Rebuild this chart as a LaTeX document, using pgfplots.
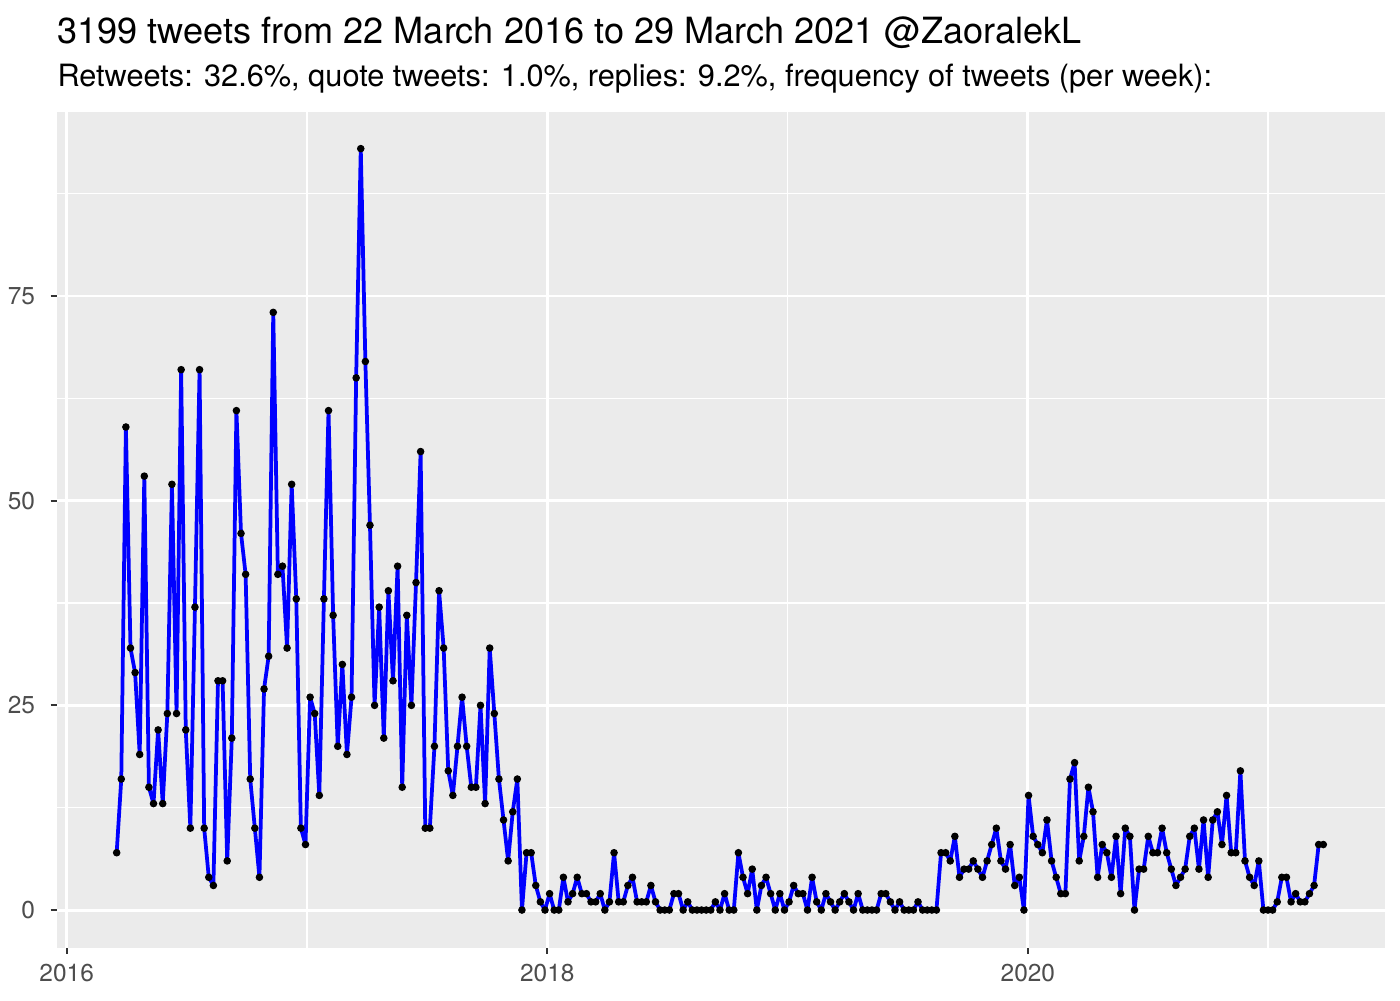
\documentclass[border=0pt]{standalone}
\usepackage{pgfplots}
\pgfplotsset{compat=1.18}
\usepackage{pgfplotstable}
\usepackage{fontspec}
\setmainfont{TeX Gyre Heros}
\definecolor{panel}{HTML}{EBEBEB}
\definecolor{ticklab}{HTML}{4D4D4D}
\definecolor{tickcol}{HTML}{333333}

% weekly tweet counts, first week 22 March 2016
\pgfplotstableread[row sep=\\]{n\\
7\\16\\59\\32\\29\\19\\53\\15\\13\\22\\13\\24\\52\\24\\66\\22\\10\\37\\66\\10\\
4\\3\\28\\28\\6\\21\\61\\46\\41\\16\\10\\4\\27\\31\\73\\41\\42\\32\\52\\38\\
10\\8\\26\\24\\14\\38\\61\\36\\20\\30\\19\\26\\65\\93\\67\\47\\25\\37\\21\\39\\
28\\42\\15\\36\\25\\40\\56\\10\\10\\20\\39\\32\\17\\14\\20\\26\\20\\15\\15\\25\\
13\\32\\24\\16\\11\\6\\12\\16\\0\\7\\7\\3\\1\\0\\2\\0\\0\\4\\1\\2\\
4\\2\\2\\1\\1\\2\\0\\1\\7\\1\\1\\3\\4\\1\\1\\1\\3\\1\\0\\0\\
0\\2\\2\\0\\1\\0\\0\\0\\0\\0\\1\\0\\2\\0\\0\\7\\4\\2\\5\\0\\
3\\4\\2\\0\\2\\0\\1\\3\\2\\2\\0\\4\\1\\0\\2\\1\\0\\1\\2\\1\\
0\\2\\0\\0\\0\\0\\2\\2\\1\\0\\1\\0\\0\\0\\1\\0\\0\\0\\0\\7\\
7\\6\\9\\4\\5\\5\\6\\5\\4\\6\\8\\10\\6\\5\\8\\3\\4\\0\\14\\9\\
8\\7\\11\\6\\4\\2\\2\\16\\18\\6\\9\\15\\12\\4\\8\\7\\4\\9\\2\\10\\
9\\0\\5\\5\\9\\7\\7\\10\\7\\5\\3\\4\\5\\9\\10\\5\\11\\4\\11\\12\\
8\\14\\7\\7\\17\\6\\4\\3\\6\\0\\0\\0\\1\\4\\4\\1\\2\\1\\1\\2\\
3\\8\\8\\
}\tweets

\begin{document}
\begin{tikzpicture}
\useasboundingbox (0,0) rectangle (504pt,360pt);
\node[anchor=base west, inner sep=0pt, font=\fontsize{13.0}{15}\selectfont] at (20.52pt,344.2pt)
  {3199 tweets from 22 March 2016 to 29 March 2021 @ZaoralekL};
\node[anchor=base west, inner sep=0pt, font=\fontsize{11.05}{13}\selectfont] at (20.52pt,328.7pt)
  {Retweets: 32.6\%, quote tweets: 1.0\%, replies: 9.2\%, frequency of tweets (per week):};
\begin{axis}[
  at={(20.4pt,18.83pt)}, anchor=south west,
  width=478.2pt, height=300.85pt, scale only axis,
  xmin=-13.03, xmax=275.4, ymin=-4.6, ymax=97.47,
  axis background/.style={fill=panel},
  axis line style={draw=none},
  xtick={-10.86,93.50,197.85}, xticklabels={2016,2018,2020},
  minor xtick={41.32,145.68,250.03},
  ytick={0,25,50,75}, minor ytick={12.5,37.5,62.5,87.5},
  grid=both,
  major grid style={white, line width=1.07pt},
  minor grid style={white, line width=0.53pt},
  tick align=outside, major tick length=2.2pt, minor tick length=0pt,
  tick pos=left,
  major tick style={tickcol, line width=0.8pt},
  ticklabel style={font=\fontsize{8.8}{10}\selectfont, text=ticklab},
  xticklabel style={anchor=north, inner sep=0pt, yshift=-3.6pt},
  yticklabel style={anchor=east, inner sep=0pt, xshift=-5.4pt},
  /pgf/number format/assume math mode=true,
  clip=false,
]
\addplot[only marks, mark=*, mark size=1.15pt, black] table[x expr=\coordindex, y=n]{\tweets};
\addplot[blue, line width=1.35pt, line join=round, no marks] table[x expr=\coordindex, y=n]{\tweets};
\end{axis}
\end{tikzpicture}
\end{document}
